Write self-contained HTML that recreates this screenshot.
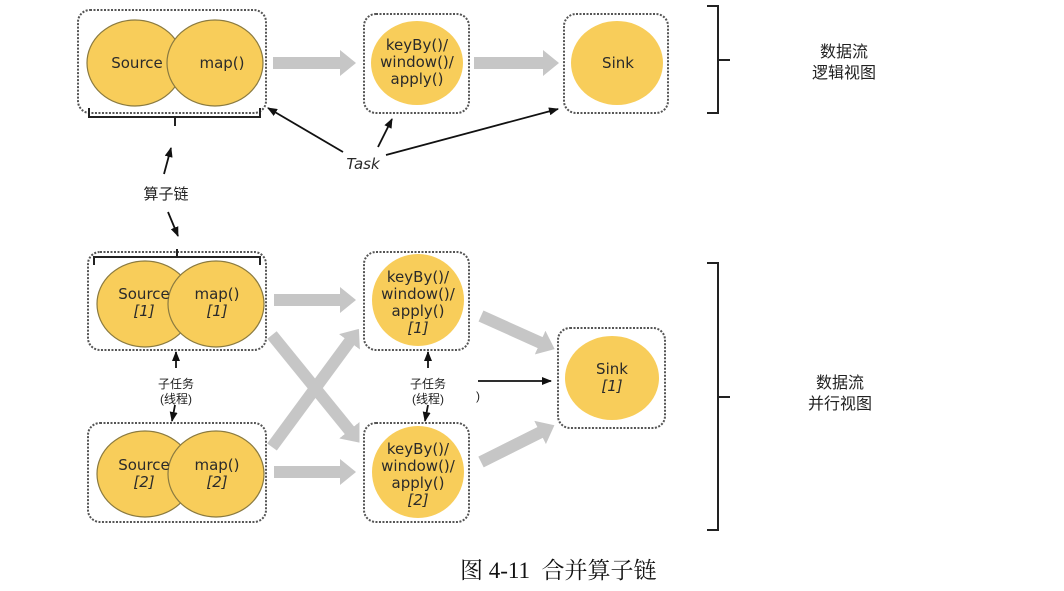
<!DOCTYPE html>
<html><head><meta charset="utf-8"><style>
html,body{margin:0;padding:0;background:#fff;}
svg{display:block;}
.t{font-family:"DejaVu Sans","Liberation Sans",sans-serif;fill:#2a2a2a;}
.c{font-family:"Liberation Sans","Noto Sans CJK SC",sans-serif;fill:#222;}
</style></head><body>
<svg width="1064" height="591" viewBox="0 0 1064 591" xmlns="http://www.w3.org/2000/svg">
<defs>
<marker id="g" markerUnits="userSpaceOnUse" markerWidth="16" markerHeight="26" refX="1" refY="13" orient="auto"><path d="M0,0 L16,13 L0,26 Z" fill="#c6c6c6"/></marker>
<marker id="b" markerUnits="userSpaceOnUse" markerWidth="10" markerHeight="8" refX="9" refY="4" orient="auto"><path d="M0,0 L10,4 L0,8 Z" fill="#111"/></marker>
</defs>
<g fill="none" stroke="#555" stroke-width="2" stroke-dasharray="2,1.5">
<rect x="78" y="10" width="188" height="103" rx="12"/>
<rect x="364" y="14" width="105" height="99" rx="12"/>
<rect x="564" y="14" width="104" height="99" rx="12"/>
<rect x="88" y="252" width="178" height="98" rx="12"/>
<rect x="364" y="252" width="105" height="98" rx="12"/>
<rect x="88" y="423" width="178" height="99" rx="12"/>
<rect x="364" y="423" width="105" height="99" rx="12"/>
<rect x="558" y="328" width="107" height="100" rx="12"/>
</g>
<g fill="#f8cd5a" stroke="#8a7a40" stroke-width="1.2">
<ellipse cx="135" cy="63" rx="48" ry="43"/>
<ellipse cx="215" cy="63" rx="48" ry="43"/>
<ellipse cx="145" cy="304" rx="48" ry="43"/>
<ellipse cx="216" cy="304" rx="48" ry="43"/>
<ellipse cx="145" cy="474" rx="48" ry="43"/>
<ellipse cx="216" cy="474" rx="48" ry="43"/>
</g>
<g fill="#f8cd5a">
<ellipse cx="417" cy="63" rx="46" ry="42"/>
<ellipse cx="617" cy="63" rx="46" ry="42"/>
<ellipse cx="418" cy="300" rx="46" ry="46"/>
<ellipse cx="418" cy="472" rx="46" ry="46"/>
<ellipse cx="612" cy="378" rx="47" ry="42"/>
</g>
<g stroke="#c6c6c6" stroke-width="12" fill="none" marker-end="url(#g)">
<line x1="273" y1="63" x2="341" y2="63"/>
<line x1="474" y1="63" x2="544" y2="63"/>
<line x1="274" y1="300" x2="341" y2="300"/>
<line x1="274" y1="472" x2="341" y2="472"/>
<line x1="272" y1="335" x2="350" y2="431"/>
<line x1="272" y1="447" x2="350" y2="341"/>
<line x1="481" y1="316" x2="541" y2="343"/>
<line x1="481" y1="462" x2="541" y2="432"/>
</g>
<g fill="none" stroke="#222" stroke-width="2">
<path d="M89,108 V117 H260 V108 M175,117 V126"/>
<path d="M94,265 V257 H260 V265 M177,257 V249"/>
<path d="M707,6 H718 V113 H707 M718,60 H730"/>
<path d="M707,263 H718 V530 H707 M718,397 H730"/>
</g>
<g stroke="#111" stroke-width="1.8" fill="none" marker-end="url(#b)">
<line x1="343" y1="152" x2="268" y2="108"/>
<line x1="378" y1="147" x2="392" y2="119"/>
<line x1="386" y1="155" x2="558" y2="109"/>
<line x1="164" y1="174" x2="171" y2="148"/>
<line x1="168" y1="212" x2="178" y2="236"/>
<line x1="176" y1="368" x2="176" y2="352"/>
<line x1="175" y1="405" x2="172" y2="421"/>
<line x1="428" y1="368" x2="428" y2="352"/>
<line x1="428" y1="405" x2="425" y2="421"/>
<line x1="478" y1="381" x2="551" y2="381"/>
</g>
<g class="t" font-size="15" text-anchor="middle">
<text x="137" y="68">Source</text>
<text x="222" y="68">map()</text>
<text x="417" y="50">keyBy()/</text>
<text x="417" y="67">window()/</text>
<text x="417" y="84">apply()</text>
<text x="618" y="68">Sink</text>
<text x="363" y="169" font-style="italic" font-size="15">Task</text>
<text x="144" y="299">Source</text>
<text x="144" y="316" font-style="italic">[1]</text>
<text x="217" y="299">map()</text>
<text x="217" y="316" font-style="italic">[1]</text>
<text x="418" y="282">keyBy()/</text>
<text x="418" y="299">window()/</text>
<text x="418" y="316">apply()</text>
<text x="418" y="333" font-style="italic">[1]</text>
<text x="144" y="470">Source</text>
<text x="144" y="487" font-style="italic">[2]</text>
<text x="217" y="470">map()</text>
<text x="217" y="487" font-style="italic">[2]</text>
<text x="418" y="454">keyBy()/</text>
<text x="418" y="471">window()/</text>
<text x="418" y="488">apply()</text>
<text x="418" y="505" font-style="italic">[2]</text>
<text x="612" y="374">Sink</text>
<text x="612" y="391" font-style="italic">[1]</text>
</g>
<g class="c" text-anchor="middle">
<text x="166" y="199" font-size="15">算子链</text>
<text x="176" y="388" font-size="12">子任务</text>
<text x="176" y="403" font-size="12">(线程)</text>
<text x="428" y="388" font-size="12">子任务</text>
<text x="428" y="403" font-size="12">(线程)</text>
<text x="478" y="400" font-size="12">)</text>
<text x="844" y="57" font-size="16">数据流</text>
<text x="844" y="78" font-size="16">逻辑视图</text>
<text x="840" y="388" font-size="16">数据流</text>
<text x="840" y="409" font-size="16">并行视图</text>
</g>
<text x="460" y="578" font-size="23" font-family="'Liberation Serif','Noto Serif CJK SC',serif" fill="#111" xml:space="preserve">图 4-11  合并算子链</text>
</svg>
</body></html>
